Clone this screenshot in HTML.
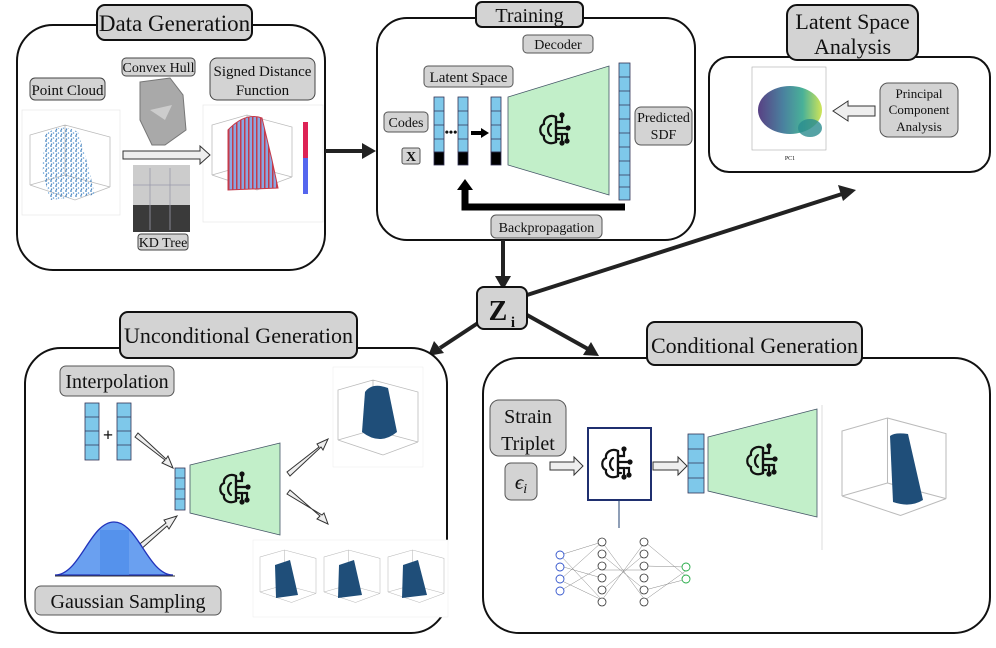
<!DOCTYPE html>
<html><head><meta charset="utf-8"><style>
html,body{margin:0;padding:0;background:#fff}
svg{display:block}
text{font-family:"Liberation Serif",serif;fill:#111}
</style></head><body>
<svg width="996" height="648" viewBox="0 0 996 648" xmlns="http://www.w3.org/2000/svg">
<defs>
<pattern id="dots" width="5" height="5" patternUnits="userSpaceOnUse"><circle cx="1" cy="1" r="0.9" fill="#3a7fc0"/><circle cx="3.5" cy="3" r="0.8" fill="#5b9bd5"/><circle cx="1.5" cy="4.2" r="0.7" fill="#2f6fb0"/></pattern>
<pattern id="stripes" width="4" height="4" patternUnits="userSpaceOnUse"><rect width="4" height="4" fill="#8aa6e0"/><rect width="1.5" height="4" fill="#c53a4a"/></pattern>
<linearGradient id="pcg" x1="0" x2="1"><stop offset="0" stop-color="#3b1f6e"/><stop offset="0.4" stop-color="#2a6c8e"/><stop offset="0.7" stop-color="#29a386"/><stop offset="1" stop-color="#c8e03a"/></linearGradient>
<g id="brain" fill="none" stroke="#111" stroke-width="2.2" stroke-linecap="round">
<path d="M0,-13 C-6,-16 -13,-12 -12,-6 C-17,-4 -17,4 -12,6 C-13,12 -6,15 0,12 Z"/>
<path d="M-5,-6 C-9,-3 -9,3 -5,6"/>
<path d="M0,-13 L0,12"/>
<path d="M0,-8 L6,-8 L6,-14"/><circle cx="6" cy="-15" r="1.5" fill="#111"/>
<path d="M0,-2 L11,-2"/><circle cx="12" cy="-2" r="1.5" fill="#111"/>
<path d="M0,4 L6,4 L6,12"/><circle cx="6" cy="13" r="1.5" fill="#111"/>
<path d="M0,9 L3,9"/><path d="M8,4 L11,4 L11,10"/><circle cx="11" cy="11" r="1.5" fill="#111"/>
</g>
<g id="box3d" fill="none" stroke="#bbb" stroke-width="0.8">
<path d="M0,60 L0,10 L35,0 L80,12 L80,62 M35,0 L35,50 L0,60 M35,50 L80,62 M0,60 L45,75 L80,62"/>
</g>
</defs>

<!-- ===== Data Generation ===== -->
<rect x="17" y="25" width="308" height="245" rx="36" fill="#fff" stroke="#111" stroke-width="2"/>
<rect x="97" y="5" width="155" height="35" rx="8" fill="#d3d3d3" stroke="#111" stroke-width="2"/>
<text x="174.5" y="31" font-size="23" text-anchor="middle">Data Generation</text>
<rect x="30" y="78" width="75" height="22" rx="5" fill="#d3d3d3" stroke="#444"/>
<text x="67.5" y="95" font-size="15" text-anchor="middle">Point Cloud</text>
<rect x="22" y="110" width="98" height="105" fill="#fff" stroke="#e4e4e4" stroke-width="0.6"/>
<use href="#box3d" x="30" y="125"/>
<path d="M45,135 Q60,122 78,132 L88,165 L95,195 L50,200 L42,170 Z" fill="url(#dots)"/>
<rect x="122" y="58" width="73" height="18" rx="4" fill="#d3d3d3" stroke="#444"/>
<text x="158.5" y="72" font-size="14" text-anchor="middle">Convex Hull</text>
<path d="M140,82 L170,78 L183,95 L186,130 L165,145 L152,145 L140,120 Z" fill="#a9a9a9" stroke="#777"/>
<path d="M150,110 L172,105 L165,120 Z" fill="#ccc"/>
<rect x="133" y="165" width="57" height="67" fill="#ccc"/>
<path d="M133,205 L190,205 L190,232 L133,232 Z" fill="#3a3a3a"/>
<path d="M150,168 L150,230 M170,168 L170,230 M133,185 L190,185" stroke="#99a" stroke-width="0.8"/>
<rect x="138" y="234" width="50" height="16" rx="3" fill="#d3d3d3" stroke="#444"/>
<text x="163" y="247" font-size="14" text-anchor="middle">KD Tree</text>
<rect x="210" y="58" width="105" height="42" rx="7" fill="#d3d3d3" stroke="#444"/>
<text x="262.5" y="76" font-size="15" text-anchor="middle">Signed Distance</text>
<text x="262.5" y="95" font-size="15" text-anchor="middle">Function</text>
<rect x="203" y="105" width="120" height="117" fill="#fff" stroke="#e4e4e4" stroke-width="0.6"/>
<use href="#box3d" x="212" y="115"/>
<path d="M228,130 Q245,112 262,118 L272,160 L278,188 L228,190 Z" fill="url(#stripes)" stroke="#c53a4a"/>
<rect x="303" y="122" width="5" height="72" fill="#d25"/>
<rect x="303" y="158" width="5" height="36" fill="#56e"/>
<path d="M123,151 L200,151 L200,146 L210,155 L200,164 L200,159 L123,159 Z" fill="#eee" stroke="#333"/>

<!-- arrow data->training -->
<line x1="325" y1="151" x2="365" y2="151" stroke="#222" stroke-width="4"/>
<path d="M362,143 L376,151 L362,159 Z" fill="#222"/>

<!-- ===== Training ===== -->
<rect x="377" y="18" width="318" height="222" rx="30" fill="#fff" stroke="#111" stroke-width="2"/>
<rect x="476" y="2" width="107" height="25" rx="6" fill="#d3d3d3" stroke="#111" stroke-width="2"/>
<text x="529.5" y="22" font-size="20" text-anchor="middle">Training</text>
<rect x="523" y="35" width="70" height="18" rx="4" fill="#d3d3d3" stroke="#555"/>
<text x="558" y="49" font-size="14" text-anchor="middle">Decoder</text>
<rect x="424" y="66" width="89" height="21" rx="4" fill="#d3d3d3" stroke="#555"/>
<text x="468.5" y="82" font-size="15" text-anchor="middle">Latent Space</text>
<rect x="384" y="112" width="44" height="20" rx="4" fill="#d3d3d3" stroke="#555"/>
<text x="406" y="127" font-size="14" text-anchor="middle">Codes</text>
<rect x="402" y="148" width="18" height="16" rx="2" fill="#d3d3d3" stroke="#555"/>
<text x="411" y="161" font-size="14" font-weight="bold" text-anchor="middle">X</text>
<g stroke="#335" stroke-width="0.8">
<rect x="434" y="97" width="10" height="55" fill="#7ec8ea"/><rect x="434" y="152" width="10" height="13" fill="#000"/>
<rect x="458" y="97" width="10" height="55" fill="#7ec8ea"/><rect x="458" y="152" width="10" height="13" fill="#000"/>
<rect x="491" y="97" width="10" height="55" fill="#7ec8ea"/><rect x="491" y="152" width="10" height="13" fill="#000"/>
<path d="M434,111 h10 M434,125 h10 M434,139 h10 M458,111 h10 M458,125 h10 M458,139 h10 M491,111 h10 M491,125 h10 M491,139 h10"/>
</g>
<text x="451" y="136" font-size="12" text-anchor="middle" font-weight="bold">•••</text>
<line x1="471" y1="133" x2="482" y2="133" stroke="#000" stroke-width="4"/><path d="M481,128 L489,133 L481,138 Z"/>
<path d="M508,97 L609,66 L609,195 L508,165 Z" fill="#c2efc9" stroke="#456" stroke-width="0.8"/>
<use href="#brain" x="556" y="130"/>
<rect x="619" y="63" width="11" height="137" fill="#7ec8ea" stroke="#335" stroke-width="0.8"/>
<path d="M619,77 h11 M619,91 h11 M619,105 h11 M619,119 h11 M619,133 h11 M619,147 h11 M619,161 h11 M619,175 h11 M619,187 h11" stroke="#335" stroke-width="0.8"/>
<rect x="635" y="107" width="57" height="38" rx="6" fill="#d3d3d3" stroke="#555"/>
<text x="663.5" y="122" font-size="14" text-anchor="middle">Predicted</text>
<text x="663.5" y="139" font-size="14" text-anchor="middle">SDF</text>
<path d="M625,207 L465,207 L465,188" fill="none" stroke="#000" stroke-width="7"/>
<path d="M457,190 L465,179 L473,190 Z" fill="#000"/>
<rect x="491" y="215" width="111" height="23" rx="5" fill="#d3d3d3" stroke="#555"/>
<text x="546.5" y="232" font-size="14" text-anchor="middle">Backpropagation</text>

<!-- ===== Latent Space Analysis ===== -->
<rect x="709" y="57" width="281" height="115" rx="20" fill="#fff" stroke="#111" stroke-width="2"/>
<rect x="787" y="5" width="131" height="55" rx="10" fill="#d3d3d3" stroke="#111" stroke-width="2"/>
<text x="852.5" y="29" font-size="22" text-anchor="middle">Latent Space</text>
<text x="852.5" y="54" font-size="22" text-anchor="middle">Analysis</text>
<rect x="752" y="67" width="74" height="83" fill="#fff" stroke="#aaa" stroke-width="0.6"/>
<ellipse cx="790" cy="110" rx="32" ry="24" fill="url(#pcg)" opacity="0.85"/>
<ellipse cx="810" cy="128" rx="12" ry="9" fill="#2a8c8e" opacity="0.8"/>
<text x="790" y="160" font-size="6" text-anchor="middle" font-family="Liberation Sans">PC1</text>
<rect x="880" y="83" width="78" height="54" rx="8" fill="#d3d3d3" stroke="#555"/>
<text x="919" y="98" font-size="13" text-anchor="middle">Principal</text>
<text x="919" y="114" font-size="13" text-anchor="middle">Component</text>
<text x="919" y="131" font-size="13" text-anchor="middle">Analysis</text>
<path d="M875,106 L848,106 L848,101 L833,111 L848,121 L848,116 L875,116 Z" fill="#eee" stroke="#333"/>

<!-- Zi and connectors -->
<line x1="503" y1="240" x2="503" y2="278" stroke="#222" stroke-width="4"/>
<path d="M495,276 L503,290 L511,276 Z" fill="#222"/>
<line x1="527" y1="295" x2="842" y2="194" stroke="#222" stroke-width="4"/>
<path d="M838,185 L856,190 L843,201 Z" fill="#222"/>
<line x1="478" y1="323" x2="440" y2="348" stroke="#222" stroke-width="4"/>
<path d="M434,341 L428,356 L444,353 Z" fill="#222"/>
<line x1="527" y1="315" x2="588" y2="349" stroke="#222" stroke-width="4"/>
<path d="M583,355 L599,356 L591,342 Z" fill="#222"/>
<rect x="477" y="287" width="50" height="42" rx="7" fill="#d3d3d3" stroke="#111" stroke-width="2"/>
<text x="498" y="320" font-size="28" font-weight="bold" text-anchor="middle">Z</text>
<text x="513" y="327" font-size="15" font-weight="bold" text-anchor="middle">i</text>

<!-- ===== Unconditional ===== -->
<rect x="25" y="348" width="422" height="285" rx="36" fill="#fff" stroke="#111" stroke-width="2"/>
<rect x="120" y="312" width="237" height="46" rx="8" fill="#d3d3d3" stroke="#111" stroke-width="2"/>
<text x="238.5" y="343" font-size="22" text-anchor="middle">Unconditional Generation</text>
<rect x="60" y="366" width="114" height="30" rx="6" fill="#d3d3d3" stroke="#555"/>
<text x="117" y="388" font-size="20" text-anchor="middle">Interpolation</text>
<g stroke="#335" stroke-width="0.8" fill="#7ec8ea">
<rect x="85" y="403" width="14" height="57"/><rect x="117" y="403" width="14" height="57"/>
<path d="M85,417 h14 M85,431 h14 M85,445 h14 M117,417 h14 M117,431 h14 M117,445 h14"/>
<rect x="175" y="468" width="10" height="42"/><path d="M175,478 h10 M175,489 h10 M175,499 h10"/>
</g>
<text x="108" y="441" font-size="18" font-weight="bold" text-anchor="middle">+</text>
<g fill="#eee" stroke="#333">
<path d="M135,437 L165,460 L162,463 L173,468 L168,456 L166,459 L138,433 Z"/>
<path d="M139,551 L167,526 L169,529 L177,516 L164,520 L166,523 L136,547 Z"/>
<path d="M287,472 L319,447 L317,444 L328,439 L323,450 L321,447 L290,476 Z"/>
<path d="M290,490 L320,516 L317,519 L328,524 L324,513 L322,515 L287,494 Z"/>
</g>
<path d="M190,465 L280,443 L280,535 L190,513 Z" fill="#c2efc9" stroke="#456" stroke-width="0.8"/>
<use href="#brain" x="236" y="489"/>
<rect x="333" y="367" width="90" height="100" fill="#fff" stroke="#eee" stroke-width="0.6"/>
<use href="#box3d" x="338" y="380"/>
<path d="M365,392 Q372,382 388,388 L397,432 Q380,446 362,432 Z" fill="#1f4e79"/>
<path d="M55,575 C80,575 90,522 114,522 C138,522 148,575 173,575 Z" fill="#6aa0f0" stroke="#2233bb" stroke-width="1.3"/>
<rect x="100" y="530" width="29" height="45" fill="#4d8cea" opacity="0.7"/>
<line x1="55" y1="576" x2="175" y2="576" stroke="#333"/>
<rect x="35" y="586" width="186" height="29" rx="6" fill="#d3d3d3" stroke="#555"/>
<text x="128" y="608" font-size="20" text-anchor="middle">Gaussian Sampling</text>
<rect x="253" y="540" width="195" height="77" fill="#fff" stroke="#eee" stroke-width="0.6"/>
<g transform="translate(260,550) scale(0.7)"><use href="#box3d"/></g>
<g transform="translate(324,550) scale(0.7)"><use href="#box3d"/></g>
<g transform="translate(388,550) scale(0.7)"><use href="#box3d"/></g>
<path d="M275,565 L290,560 L298,595 L276,598 Z" fill="#1f4e79"/>
<path d="M339,565 L354,560 L362,595 L338,598 Z" fill="#1f4e79"/>
<path d="M403,565 L418,560 L427,595 L402,598 Z" fill="#1f4e79"/>

<!-- ===== Conditional ===== -->
<rect x="483" y="358" width="507" height="275" rx="36" fill="#fff" stroke="#111" stroke-width="2"/>
<rect x="647" y="322" width="215" height="43" rx="8" fill="#d3d3d3" stroke="#111" stroke-width="2"/>
<text x="754.5" y="353" font-size="22" text-anchor="middle">Conditional Generation</text>
<rect x="490" y="400" width="76" height="56" rx="9" fill="#d3d3d3" stroke="#555"/>
<text x="528" y="423" font-size="20" text-anchor="middle">Strain</text>
<text x="528" y="450" font-size="20" text-anchor="middle">Triplet</text>
<rect x="505" y="463" width="32" height="37" rx="6" fill="#d3d3d3" stroke="#555"/>
<text x="521" y="489" font-size="21" font-style="italic" text-anchor="middle">ϵ<tspan font-size="14" dy="4">i</tspan></text>
<path d="M550,462 L574,462 L574,457 L583,466 L574,475 L574,470 L550,470 Z" fill="#eee" stroke="#333"/>
<rect x="588" y="428" width="63" height="72" fill="#fff" stroke="#1f2f6f" stroke-width="2"/>
<use href="#brain" x="618" y="464"/>
<path d="M653,462 L678,462 L678,457 L687,466 L678,475 L678,470 L653,470 Z" fill="#eee" stroke="#333"/>
<rect x="688" y="434" width="16" height="59" fill="#7ec8ea" stroke="#335" stroke-width="0.8"/>
<path d="M688,449 h16 M688,463 h16 M688,478 h16" stroke="#335" stroke-width="0.8"/>
<path d="M708,437 L817,409 L817,517 L708,491 Z" fill="#c2efc9" stroke="#456" stroke-width="0.8"/>
<use href="#brain" x="763" y="461"/>
<line x1="822" y1="405" x2="822" y2="550" stroke="#ddd"/>
<g transform="translate(842,418) scale(1.3)"><use href="#box3d"/></g>
<path d="M890,436 Q895,432 908,434 L923,500 Q910,508 893,502 Z" fill="#1f4e79"/>
<line x1="619" y1="500" x2="619" y2="528" stroke="#1f3f6f"/>
<g stroke="#888" stroke-width="0.5">
<path d="M560,555 L602,542 M560,555 L602,600 M560,580 L602,542 M560,580 L602,600 M602,542 L645,600 M602,600 L645,542 M602,570 L645,570 M645,542 L687,577 M645,600 L687,570 M560,566 L602,578 M602,555 L645,590 M560,591 L602,566 M602,590 L645,554 M645,566 L687,567 M645,590 L687,579"/>
</g>
<g fill="#fff" stroke="#333" stroke-width="0.8">
<circle cx="602" cy="542" r="4"/><circle cx="602" cy="554" r="4"/><circle cx="602" cy="566" r="4"/><circle cx="602" cy="578" r="4"/><circle cx="602" cy="590" r="4"/><circle cx="602" cy="602" r="4"/>
<circle cx="644" cy="542" r="4"/><circle cx="644" cy="554" r="4"/><circle cx="644" cy="566" r="4"/><circle cx="644" cy="578" r="4"/><circle cx="644" cy="590" r="4"/><circle cx="644" cy="602" r="4"/>
</g>
<g fill="#fff" stroke="#3355cc" stroke-width="0.9"><circle cx="560" cy="555" r="4"/><circle cx="560" cy="567" r="4"/><circle cx="560" cy="579" r="4"/><circle cx="560" cy="591" r="4"/></g>
<g fill="#fff" stroke="#22aa44" stroke-width="0.9"><circle cx="686" cy="567" r="4"/><circle cx="686" cy="579" r="4"/></g>
</svg>
</body></html>
